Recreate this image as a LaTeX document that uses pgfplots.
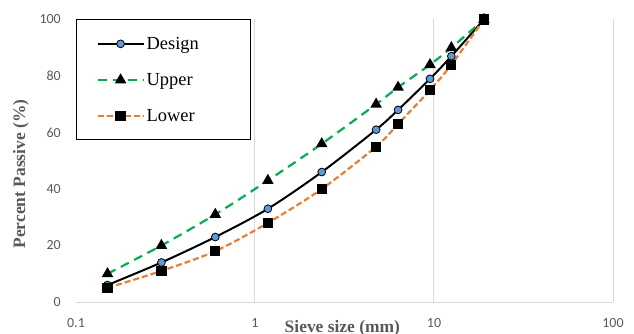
\documentclass[border=0pt]{standalone}
\usepackage{fontspec}
\setmainfont{Liberation Serif}
\newfontfamily\carlito{Carlito}
\usepackage{pgfplots}
\pgfplotsset{compat=1.18}
\definecolor{gridgray}{HTML}{D9D9D9}
\definecolor{txtgray}{HTML}{595959}
\definecolor{dblue}{HTML}{5B9BD5}
\definecolor{ugreen}{HTML}{00B050}
\definecolor{lorange}{HTML}{ED7D31}
\begin{document}
\begin{tikzpicture}
\begin{axis}[
  scale only axis, width=537bp, height=282.5bp,
  xmode=log, xmin=0.1, xmax=100, ymin=0, ymax=100,
  axis x line=bottom, axis y line=left,
  axis line style={-, draw=gridgray, line width=1bp},
  y axis line style={draw=none},
  xtick={1,10,100}, xticklabels={1,10,100},
  extra x ticks={0.1}, extra x tick labels={0.1}, extra x tick style={grid=none},
  xminorticks=false, yminorticks=false,
  xmajorgrids, grid style={draw=gridgray, line width=1bp},
  ytick={0,20,40,60,80,100},
  major tick length=0pt, minor tick length=0pt,
  /pgf/number format/assume math mode=true,
  tick label style={font=\carlito\fontsize{14}{16}\selectfont, text=txtgray},
  x tick label style={anchor=center, yshift=-21bp},
  y tick label style={anchor=east, inner sep=0pt, xshift=-15bp},
  xlabel={Sieve size (mm)},
  ylabel={Percent Passive (\%)},
  label style={font=\bfseries\fontsize{17.5}{20}\selectfont, text=txtgray},
  xlabel style={at={(axis description cs:0.496,0)}, anchor=base, yshift=-30.5bp},
  ylabel style={at={(axis description cs:-0.1024,0.453)}, anchor=center},
  legend style={at={(axis description cs:0,1)}, anchor=north west, draw=black, line width=1bp,
    font=\fontsize{18.5}{20}\selectfont, inner xsep=20bp, inner ysep=15bp, row sep=18.5bp, fill=white,
    /tikz/every even column/.append style={text width=82bp, xshift=3bp}},
  legend cell align=left,
  legend image code/.code={\draw[mark repeat=2,mark phase=2] plot coordinates {(0bp,0bp) (23bp,0bp) (46bp,0bp)};},
]
\addplot[black, line width=2bp, smooth, mark=*, mark size=3.9bp, mark options={solid, fill=dblue, draw=black, line width=0.8bp}]
 coordinates {(0.15,6) (0.3,14) (0.6,23) (1.18,33) (2.36,46) (4.75,61) (6.3,68) (9.5,79) (12.5,87) (19,100)};
\addlegendentry{Design}
\addplot[ugreen, line width=2.2bp, dash pattern=on 9bp off 6bp, smooth, mark=triangle*, mark size=4.5bp, mark options={solid, fill=black, draw=black}]
 coordinates {(0.15,10) (0.3,20) (0.6,31) (1.18,43) (2.36,56) (4.75,70) (6.3,76) (9.5,84) (12.5,90) (19,100)};
\addlegendentry{Upper}
\addplot[lorange, line width=2.2bp, dash pattern=on 6bp off 3bp, smooth, mark=square*, mark size=4bp, mark options={solid, fill=black, draw=black}]
 coordinates {(0.15,5) (0.3,11) (0.6,18) (1.18,28) (2.36,40) (4.75,55) (6.3,63) (9.5,75) (12.5,84) (19,100)};
\addlegendentry{Lower}
\end{axis}
\pgfresetboundingbox
\path (current axis.south west) ++(-76bp,-32bp) coordinate (bl);
\path (current axis.north east) ++(21bp,19.5bp) coordinate (tr);
\useasboundingbox (bl) rectangle (tr);
\end{tikzpicture}
\end{document}
